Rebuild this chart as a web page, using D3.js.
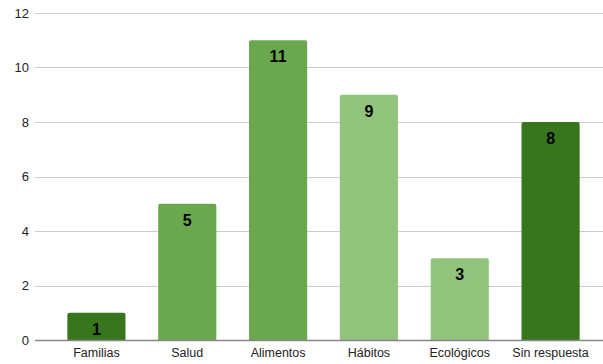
<!DOCTYPE html>
<html><head><meta charset="utf-8">
<script src="https://cdn.jsdelivr.net/npm/d3@7"></script>
<style>body{margin:0;background:#fff}svg{display:block}</style>
</head><body>
<script>
const categories = ["Familias","Salud","Alimentos","Hábitos","Ecológicos","Sin respuesta"];
const values = [1,5,11,9,3,8];
const colors = ["#38761d","#6aa84f","#6aa84f","#93c47d","#93c47d","#38761d"];
const yTicks = [0,2,4,6,8,10,12];

const W=603,H=364;
const svg=d3.select("body").append("svg").attr("width",W).attr("height",H);
const x=d3.scaleBand().domain(categories).range([51,596]).paddingInner(0.36).paddingOuter(0.18);
const y=d3.scaleLinear().domain([0,12]).range([340,13]);
const font="Liberation Sans, Arial, sans-serif";

const g=svg.append("g");
g.selectAll("line.grid").data(yTicks.filter(d=>d>0)).enter().append("line")
 .attr("x1",35).attr("x2",W).attr("y1",d=>Math.round(y(d))+0.5).attr("y2",d=>Math.round(y(d))+0.5)
 .attr("stroke","#cccccc").attr("stroke-width",1);

const yAxis=d3.axisLeft(y).tickValues(yTicks).tickSize(0).tickPadding(0);
svg.append("g").attr("transform","translate(29,0)").call(yAxis)
 .call(s=>s.select(".domain").remove())
 .selectAll("text").attr("font-family",font).attr("font-size",13).attr("fill","#222");

g.selectAll("rect.bar").data(values).enter().append("path")
 .attr("fill",(d,i)=>colors[i])
 .attr("d",(d,i)=>{
   const x0=x(categories[i]),w=x.bandwidth(),y0=y(d),y1=y(0),r=2;
   return `M${x0},${y1}V${y0+r}Q${x0},${y0} ${x0+r},${y0}H${x0+w-r}Q${x0+w},${y0} ${x0+w},${y0+r}V${y1}Z`;
 });

g.selectAll("text.val").data(values).enter().append("text")
 .attr("x",(d,i)=>x(categories[i])+x.bandwidth()/2).attr("y",d=>y(d)+22)
 .attr("text-anchor","middle").attr("font-family",font).attr("font-weight","bold")
 .attr("font-size",16).attr("fill","#000").text(d=>d);

svg.append("line").attr("x1",35).attr("x2",W).attr("y1",340.5).attr("y2",340.5)
 .attr("stroke","#888").attr("stroke-width",1.5);

const xAxis=d3.axisBottom(x).tickSize(0).tickPadding(0);
svg.append("g").attr("transform","translate(0,348)").call(xAxis)
 .call(s=>s.select(".domain").remove())
 .selectAll("text").attr("font-family",font).attr("font-size",12.5).attr("fill","#222");
</script>
</body></html>
